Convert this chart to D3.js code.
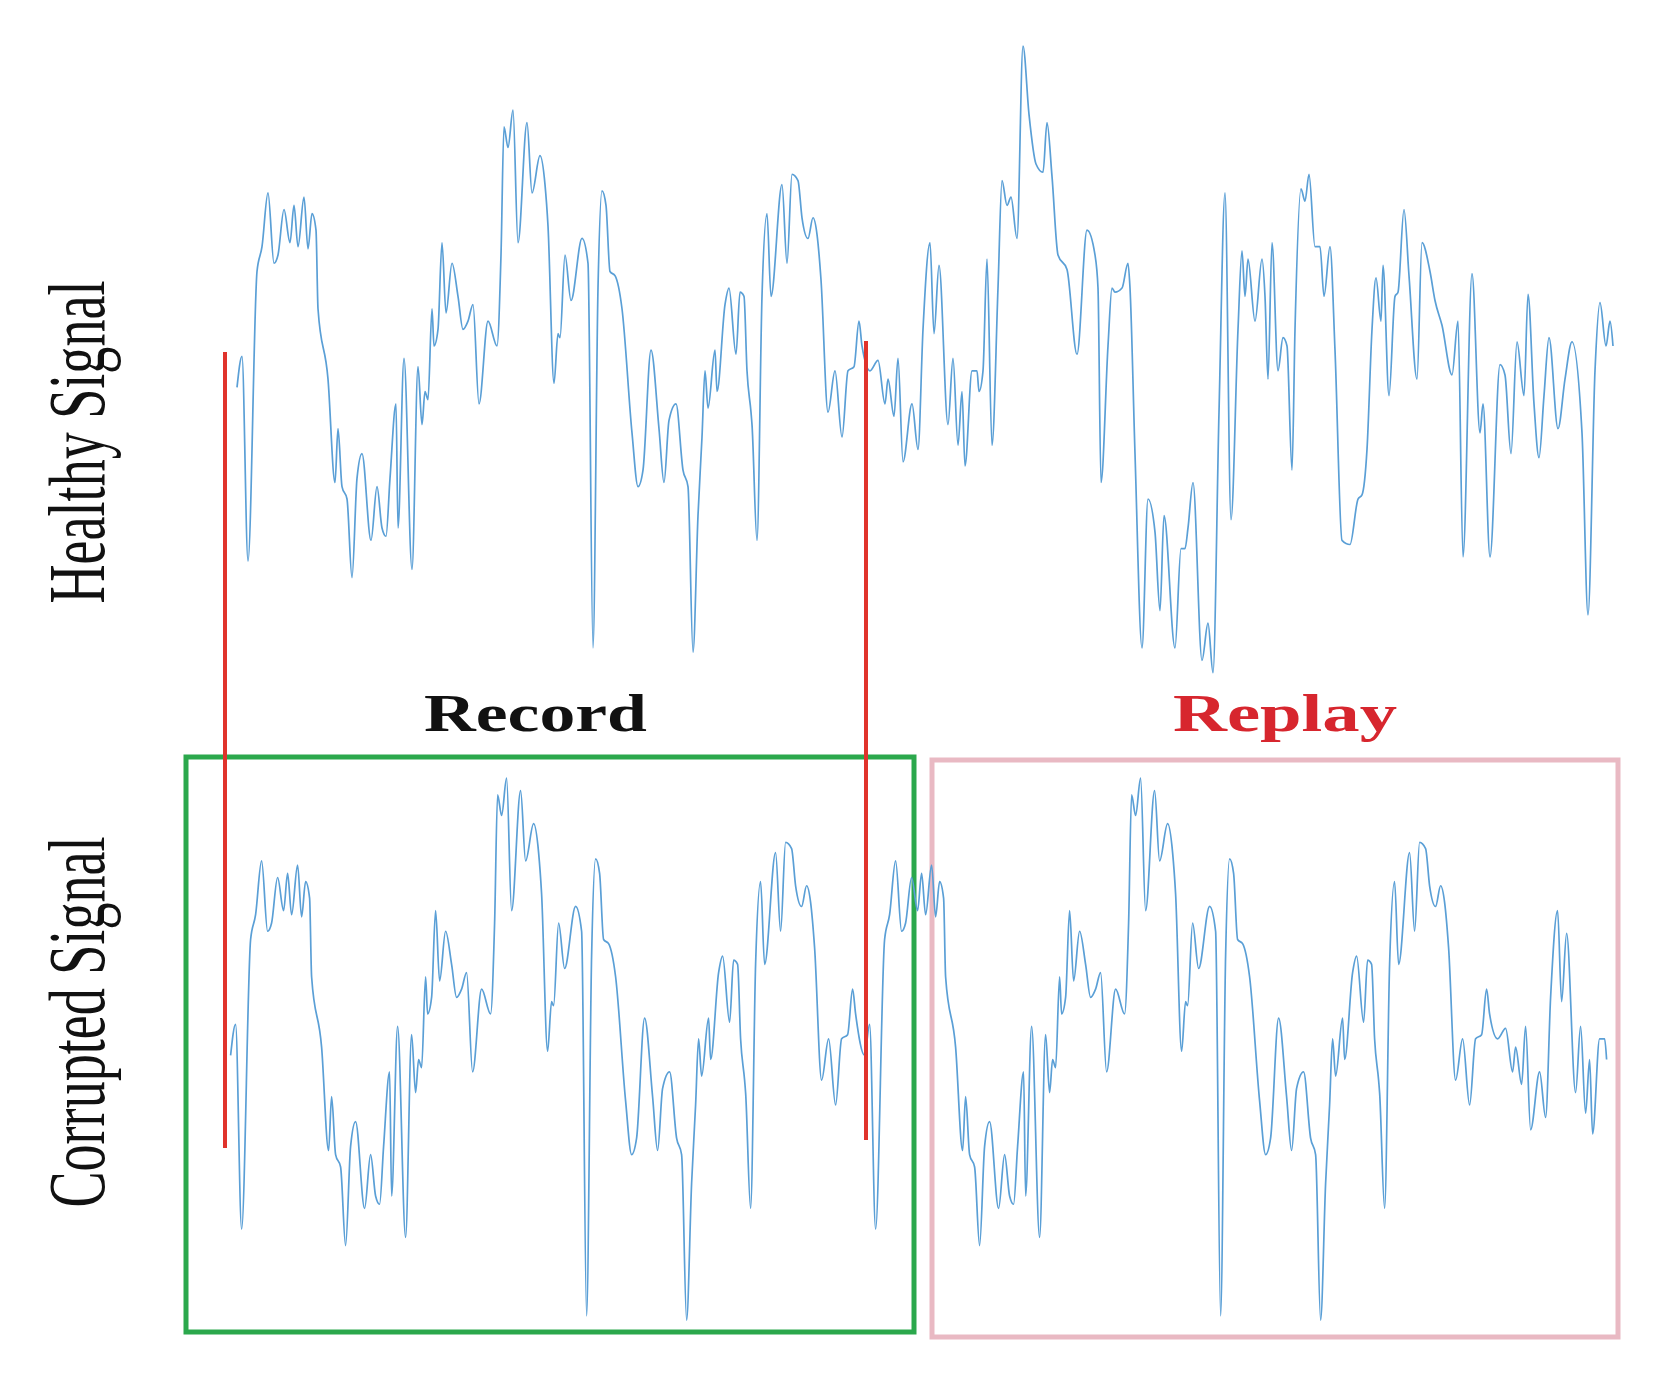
<!DOCTYPE html>
<html>
<head>
<meta charset="utf-8">
<script src="https://cdn.jsdelivr.net/npm/d3@7"></script>
<style>
  body { margin: 0; background: #fff; }
</style>
</head>
<body>
<div id="container"></div>
<script>
// healthy signal: [time, amplitude]
var healthySignal = [
  [2,76],[7,83.5],[13,34],[22,104],[27,110],[33,123],[39,106],[43,108],[49,119],[55,111],
  [59,120],[63,110],[69,122],[73,109.5],[77,118],[81,114],[83,95],[93,78],[100,53],[103,66],
  [107,52],[112,49],[117,30],[122,54],[127,60],[136,39],[142,52],[147,42],[151,40],[155,54],
  [161,72],[163,42],[169,83],[177,32],[183,81],[187,67],[190,75],[193,73],[197,95],[199,86],
  [203,90],[207,111],[211,94],[217,106],[223,98],[228,90],[233,92],[238,96],[244,72],[253,92],
  [262,86],[266,108],[269,139],[273,134],[278,143],[283,111],[292,140],[297,123],[305,132],[310,125],
  [313,115],[319,77],[323,89],[325,88],[330,108],[336,97],[347,112],[353,106],[358,13],[363,100],
  [367,123.5],[371,120],[375,104],[380,103],[387,95],[397,65],[403,52],[408,56],[416,85],[424,66],
  [429,53],[434,68],[441,72],[448,56],[453,52],[458,12],[463,45],[467,64],[470,80],[473,71],
  [480,85],[482,75],[490,96],[494,100],[501,84],[505,99],[509,98],[512,80],[516,70],[517,67],
  [522,39],[527,98],[532,118],[536,98],[547,125],[552,106],[557,127.5],[563,126],[567,117],[573,112],
  [578,117],[582,113],[586,102],[593,70],[600,80],[607,64],[613,80],[619,81],[624,92],[627,86],
  [635,80],[643,82.5],[650,72],[653,78],[659,69],[663,83],[668,58],[677,72],[683,61],[688,90],
  [695,111],[699,89],[704,105.5],[713,67],[718,83],[723,62],[727,75],[730,57],[737,80],[742,80],
  [744,75],[748,80],[752,107],[757,62],[763,100],[767,126],[772,120],[776,122],[782,112],[788,158.5],
  [794,142],[801,130],[808,128],[812,140],[817,127],[823,108],[832,104.5],[842,84],[852,114],[860,108],
  [863,100],[866,53],[873,86],[877,100],[880,99],[887,100],[893,106],[895,100],[900,60],[907,13],
  [913,49],[920,41],[925,22],[929,45],[940,13],[946,37],[950,37],[953,42],[958,53],[967,10],
  [973,19],[978,7],[984,70],[990,123],[996,44],[1003,90],[1007,109],[1010,98],[1013,107],[1020,92],
  [1027,107],[1030,98],[1033,78],[1037,111],[1043,80],[1048,88],[1052,86],[1057,56],[1060,90],[1066,124],
  [1070,121],[1074,127.5],[1080,110],[1085,110],[1089,98],[1095,110],[1100,85],[1107,39],[1115,38],[1123,49],
  [1127,50],[1132,61],[1137,90],[1141,102.5],[1146,92],[1148,105.5],[1154,74],[1160,98],[1163,99],[1169,119],
  [1174,103],[1182,78],[1187,111],[1195,104],[1200,97],[1207,91],[1217,79],[1223,92],[1228,35],[1237,103.5],
  [1245,65],[1248,72],[1255,35],[1265,81.5],[1270,79],[1276,60],[1282,87],[1289,74],[1293,98.5],[1299,72],
  [1304,59],[1309,74],[1314,88],[1323,66],[1330,78],[1337,87],[1347,65],[1353,21],[1360,80],[1365,96.5],
  [1371,86],[1375,92],[1378,86]
];

var recordWindow = [-10, 631];   // times of the two red markers
var replayShift = 634;           // corrupted stream restarts the recording here
var replayEnd = 744;             // last recorded sample that gets replayed

var rowLabels = ["Healthy Signal", "Corrupted Signal"];
var segmentLabels = ["Record", "Replay"];

var width = 1662;
var height = 1374;
var rowGap = 668;       // corrupted panel is drawn this far below the healthy one
var corruptDx = -6.4;   // and nudged a little left

var svg = d3
  .select("#container")
  .append("svg")
  .attr("width", width)
  .attr("height", height)
  .style("background", "#fff");

var x = d3.scaleLinear().domain([0, 1378]).range([235, 1613]);
var y = d3.scaleLinear().domain([0, 160]).range([701.7, 39.9]);

var line = d3
  .line()
  .curve(d3.curveMonotoneX)
  .x(d => x(d[0]))
  .y(d => y(d[1]));

// corrupted = recorded part, then the recording played back
var corrupted = healthySignal
  .filter(d => d[0] <= recordWindow[1])
  .concat(
    healthySignal
      .filter(d => d[0] <= replayEnd)
      .map(d => [d[0] + replayShift, d[1]])
  );

// boxes round the record and replay parts
svg
  .append("rect")
  .attr("x", 186)
  .attr("y", 757)
  .attr("width", 728)
  .attr("height", 575)
  .attr("fill", "none")
  .attr("stroke", "#2ba84c")
  .attr("stroke-width", 5);

svg
  .append("rect")
  .attr("x", 932)
  .attr("y", 760)
  .attr("width", 686)
  .attr("height", 577)
  .attr("fill", "none")
  .attr("stroke", "#e9b9c3")
  .attr("stroke-width", 5);

svg
  .append("path")
  .datum(healthySignal)
  .attr("d", line)
  .attr("fill", "none")
  .attr("stroke", "#5a9fd6")
  .attr("stroke-width", 1.7)
  .attr("stroke-linejoin", "round");

svg
  .append("g")
  .attr("transform", "translate(" + corruptDx + "," + rowGap + ")")
  .append("path")
  .datum(corrupted)
  .attr("d", line)
  .attr("fill", "none")
  .attr("stroke", "#5a9fd6")
  .attr("stroke-width", 1.7)
  .attr("stroke-linejoin", "round");

// red markers for the recording window
var markerTop = [352, 341];
var markerBottom = [1148, 1140];
svg
  .selectAll(".marker")
  .data(recordWindow)
  .enter()
  .append("line")
  .attr("class", "marker")
  .attr("x1", d => x(d))
  .attr("x2", d => x(d))
  .attr("y1", (d, i) => markerTop[i])
  .attr("y2", (d, i) => markerBottom[i])
  .attr("stroke", "#e0332c")
  .attr("stroke-width", 4);

// row labels
var rowCenters = [442, 1022];
var rowLengths = [323, 371];
svg
  .selectAll(".row-label")
  .data(rowLabels)
  .enter()
  .append("text")
  .attr("class", "row-label")
  .attr("transform", (d, i) => "translate(104," + rowCenters[i] + ") rotate(-90)")
  .attr("text-anchor", "middle")
  .attr("font-family", "'Liberation Serif', 'Times New Roman', serif")
  .attr("font-size", 80)
  .attr("textLength", (d, i) => rowLengths[i])
  .attr("lengthAdjust", "spacingAndGlyphs")
  .attr("fill", "#111")
  .text(d => d);

// segment labels
var segX = [424, 1173];
var segLen = [223, 224];
var segColor = ["#111", "#d7262e"];
svg
  .selectAll(".seg-label")
  .data(segmentLabels)
  .enter()
  .append("text")
  .attr("class", "seg-label")
  .attr("x", (d, i) => segX[i])
  .attr("y", 731)
  .attr("font-family", "'Liberation Serif', 'Times New Roman', serif")
  .attr("font-weight", "bold")
  .attr("font-size", 53)
  .attr("textLength", (d, i) => segLen[i])
  .attr("lengthAdjust", "spacingAndGlyphs")
  .attr("fill", (d, i) => segColor[i])
  .text(d => d);
</script>
</body>
</html>
